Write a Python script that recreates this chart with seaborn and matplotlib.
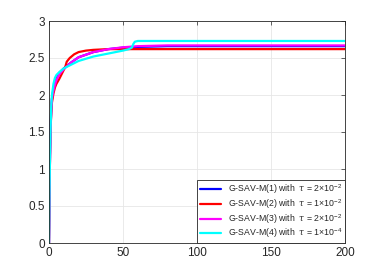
import numpy as np
import pandas as pd
import matplotlib
matplotlib.use('Agg')
import matplotlib.pyplot as plt
import seaborn as sns

# values
t1 = [0, 0.3, 0.7, 1, 1.5, 2, 3, 4, 5, 7, 10, 15, 20, 30, 40, 50, 60, 80, 120, 200]
m1 = [0, 0.6, 1.2, 1.5, 1.8, 1.95, 2.08, 2.17, 2.23, 2.3, 2.36, 2.44, 2.51, 2.58, 2.62, 2.64, 2.65, 2.66, 2.66, 2.66]

t2 = [0, 0.3, 0.7, 1, 1.5, 2, 3, 4, 5, 7, 9, 11, 12, 14, 17, 20, 25, 30, 40, 60, 200]
m2 = [0, 0.6, 1.2, 1.5, 1.75, 1.9, 2.02, 2.1, 2.15, 2.22, 2.3, 2.38, 2.45, 2.5, 2.55, 2.58, 2.6, 2.61, 2.62, 2.62, 2.62]

t3 = [0, 0.3, 0.7, 1, 1.5, 2, 3, 4, 5, 7, 10, 15, 20, 30, 40, 50, 60, 80, 120, 200]
m3 = [0, 0.6, 1.2, 1.5, 1.8, 1.95, 2.06, 2.14, 2.2, 2.28, 2.35, 2.44, 2.51, 2.58, 2.62, 2.645, 2.66, 2.67, 2.67, 2.67]

t4 = [0, 0.3, 0.7, 1, 1.5, 2, 3, 4, 5, 7, 10, 15, 20, 30, 40, 50, 54, 56, 57, 58, 60, 100, 200]
m4 = [0, 0.6, 1.2, 1.5, 1.85, 2.0, 2.15, 2.23, 2.27, 2.31, 2.36, 2.41, 2.46, 2.52, 2.56, 2.6, 2.62, 2.64, 2.69, 2.72, 2.73, 2.73, 2.73]

labels = [r'G-SAV-M(1) with  $\tau$ = 2$\times$10$^{-2}$',
          r'G-SAV-M(2) with  $\tau$ = 1$\times$10$^{-2}$',
          r'G-SAV-M(3) with  $\tau$ = 2$\times$10$^{-2}$',
          r'G-SAV-M(4) with  $\tau$ = 1$\times$10$^{-4}$']
colors = ['#0000ff', '#ff0000', '#ff00ff', '#00ffff']

frames = []
for t, m, lab in zip([t1, t2, t3, t4], [m1, m2, m3, m4], labels):
    frames.append(pd.DataFrame({'t': t, 'M': m, 'method': lab}))
df = pd.concat(frames, ignore_index=True)

sns.set_style('white')
plt.rcParams['font.family'] = ['Liberation Sans', 'DejaVu Sans']
plt.rcParams['mathtext.fontset'] = 'custom'
plt.rcParams['mathtext.rm'] = 'Liberation Sans'
plt.rcParams['mathtext.it'] = 'DejaVu Serif:italic'

fig = plt.figure(figsize=(3.82, 2.73), dpi=100)
ax = fig.add_axes([49 / 382, 30 / 273, 296 / 382, 222 / 273])
sns.lineplot(data=df, x='t', y='M', hue='method', palette=colors,
             linewidth=1.6, ax=ax, sort=False, estimator=None)

ax.set_xlim(0, 200)
ax.set_ylim(0, 3)
ax.set_xticks([0, 50, 100, 150, 200])
ax.set_yticks([0, 0.5, 1, 1.5, 2, 2.5, 3])
ax.set_yticklabels(['0', '0.5', '1', '1.5', '2', '2.5', '3'])
ax.grid(True, color='#e6e6e6', linewidth=0.6)
ax.tick_params(direction='in', length=3, width=0.5, labelsize=8.5, colors='#262626',
               top=True, right=True, pad=3)
for s in ax.spines.values():
    s.set_linewidth(0.6)
    s.set_color('#262626')
ax.set_xlabel('')
ax.set_ylabel('')

leg = ax.legend(loc='lower right', fontsize=6.3, frameon=True, fancybox=False,
                edgecolor='#262626', framealpha=1, handlelength=2.4,
                borderaxespad=0, labelspacing=0.12, borderpad=0.3, handletextpad=0.8)
leg.get_frame().set_linewidth(0.6)

fig.savefig('out.png', dpi=100)
